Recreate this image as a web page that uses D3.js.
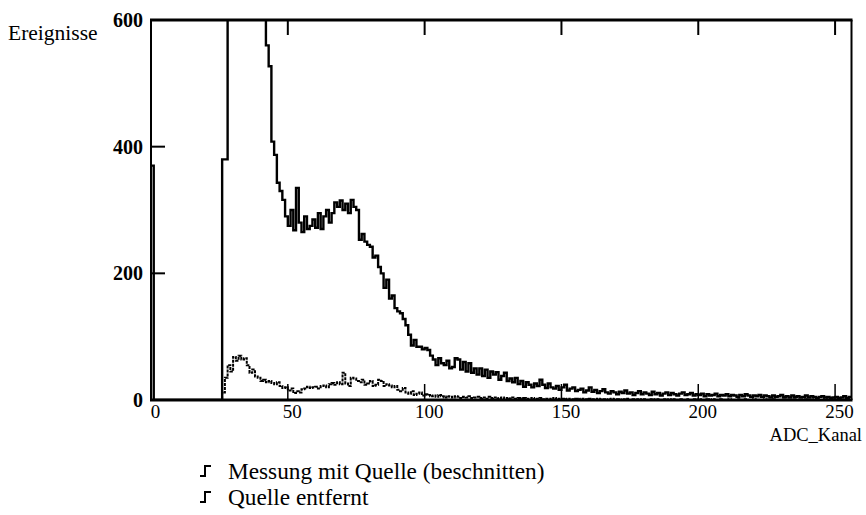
<!DOCTYPE html>
<html>
<head>
<meta charset="utf-8">
<script src="https://cdn.jsdelivr.net/npm/d3@7"></script>
<style>
  body { margin: 0; background: #fff; }
  svg text { font-family: "Liberation Serif", "Times New Roman", serif; fill: #000; }
</style>
</head>
<body>
<svg width="866" height="515"></svg>
<script>
// counts per ADC channel, 0..255 (rows of 10)
var messung = [
  370, 0, 0, 0, 0, 0, 0, 0, 0, 0,
  0, 0, 0, 0, 0, 0, 0, 0, 0, 0,
  0, 0, 0, 0, 0, 0, 380, 380, 1200, 2400,
  2900, 2700, 2300, 1900, 1600, 1300, 1100, 950, 820, 720,
  660, 620, 560, 527, 408, 387, 343, 330, 316, 290,
  275, 300, 268, 335, 280, 265, 290, 270, 275, 285,
  272, 295, 270, 290, 300, 280, 295, 312, 305, 315,
  300, 310, 295, 316, 305, 300, 253, 262, 250, 245,
  242, 225, 228, 210, 200, 177, 190, 160, 165, 145,
  140, 137, 128, 118, 103, 86, 95, 84, 84, 80,
  82, 79, 70, 64, 55, 66, 58, 55, 62, 50,
  52, 66, 64, 48, 60, 45, 58, 43, 50, 40,
  50, 38, 48, 35, 45, 40, 44, 32, 38, 43,
  30, 34, 28, 35, 25, 30, 21, 28, 24, 20,
  26, 22, 32, 24, 19, 26, 20, 18, 22, 16,
  20, 24, 15, 18, 20, 14, 16, 18, 12, 15,
  20, 13, 16, 11, 14, 17, 12, 10, 14, 12,
  9, 13, 11, 15, 10, 12, 8, 11, 14, 9,
  12, 10, 8, 13, 9, 11, 7, 10, 12, 8,
  11, 9, 7, 10, 12, 8, 9, 11, 7, 9,
  8, 10, 6, 9, 7, 8, 10, 6, 8, 7,
  9, 6, 8, 7, 5, 8, 6, 9, 7, 5,
  7, 6, 8, 5, 7, 6, 4, 7, 5, 6,
  8, 5, 6, 4, 7, 5, 6, 4, 5, 7,
  4, 6, 5, 3, 5, 6, 4, 5, 3, 4,
  5, 3, 4, 6, 3, 5
];

var entfernt = [
  0, 0, 0, 0, 0, 0, 0, 0, 0, 0,
  0, 0, 0, 0, 0, 0, 0, 0, 0, 0,
  0, 0, 0, 0, 0, 0, 12, 35, 55, 45,
  68, 62, 70, 64, 66, 55, 43, 48, 37, 35,
  30, 32, 28, 30, 27, 25, 28, 22, 19, 20,
  15, 18, 11, 14, 12, 17, 18, 21, 19, 20,
  21, 18, 22, 23, 20, 25, 27, 24, 28, 25,
  43, 26, 22, 35, 34, 30, 28, 32, 24, 26,
  30, 22, 24, 32, 30, 22, 25, 23, 20, 22,
  16, 14, 19, 12, 10, 14, 8, 10, 12, 7,
  9, 8, 6, 7, 5, 8, 6, 4, 6, 5,
  4, 6, 5, 3, 5, 4, 6, 3, 4, 5,
  3, 4, 2, 5, 3, 4, 2, 3, 4, 2,
  3, 2, 4, 2, 3, 1, 3, 2, 2, 3,
  1, 2, 3, 1, 2, 2, 1, 3, 1, 2,
  2, 1, 2, 1, 1, 2, 1, 2, 1, 1,
  2, 1, 1, 2, 1, 1, 0, 1, 2, 1,
  1, 0, 1, 1, 2, 0, 1, 1, 0, 1,
  1, 0, 1, 0, 1, 1, 0, 1, 0, 1,
  0, 1, 0, 1, 0, 0, 1, 0, 1, 0,
  1, 0, 0, 1, 0, 1, 0, 0, 1, 0,
  0, 1, 0, 0, 1, 0, 0, 1, 0, 0,
  1, 0, 0, 0, 1, 0, 0, 1, 0, 0,
  0, 1, 0, 0, 0, 1, 0, 0, 0, 1,
  0, 0, 1, 0, 0, 0, 1, 0, 0, 0,
  1, 0, 0, 0, 1, 0
];

var xTicks = [0, 50, 100, 150, 200, 250];
var yTicks = [0, 200, 400, 600];
var legendLabels = ["Messung mit Quelle (beschnitten)", "Quelle entfernt"];

var svg = d3.select("svg"),
    plotL = 151, plotR = 851.5, plotT = 20, plotB = 400;

var x = d3.scaleLinear().domain([0, 256]).range([plotL, plotR]);
var y = d3.scaleLinear().domain([0, 600]).range([plotB, plotT]);

svg.append("defs").append("clipPath").attr("id", "plot")
  .append("rect")
    .attr("x", plotL).attr("y", plotT)
    .attr("width", plotR - plotL).attr("height", plotB - plotT);

// step histogram: each channel spans [k, k+1]
function toPoints(arr) {
  var pts = arr.map(function(v, i) { return [i, v]; });
  pts.push([arr.length, arr[arr.length - 1]]);
  return pts;
}

var line = d3.line()
    .x(function(d) { return x(d[0]); })
    .y(function(d) { return y(d[1]); })
    .curve(d3.curveStepAfter);

var g = svg.append("g").attr("clip-path", "url(#plot)");

g.append("path")
    .datum(toPoints(entfernt))
    .attr("fill", "none")
    .attr("stroke", "#000")
    .attr("stroke-width", 2)
    .attr("stroke-dasharray", "3,1")
    .attr("d", line);

g.append("path")
    .datum(toPoints(messung))
    .attr("fill", "none")
    .attr("stroke", "#000")
    .attr("stroke-width", 2.4)
    .attr("d", line);

// frame
var frame = svg.append("g").attr("stroke", "#000").attr("fill", "none");
frame.append("line").attr("x1", plotL - 1).attr("x2", plotR + 1).attr("y1", plotT).attr("y2", plotT).attr("stroke-width", 3);
frame.append("line").attr("x1", plotL - 1).attr("x2", plotR + 1).attr("y1", plotB).attr("y2", plotB).attr("stroke-width", 3);
frame.append("line").attr("x1", plotL).attr("x2", plotL).attr("y1", plotT).attr("y2", plotB).attr("stroke-width", 2);
frame.append("line").attr("x1", plotR).attr("x2", plotR).attr("y1", plotT).attr("y2", plotB).attr("stroke-width", 2);

// inward ticks
var inner = xTicks.filter(function(d) { return d > 0; });
frame.selectAll(".tt").data(inner).enter().append("line")
    .attr("x1", x).attr("x2", x).attr("y1", plotT).attr("y2", plotT + 15).attr("stroke-width", 2);
frame.selectAll(".bt").data(inner).enter().append("line")
    .attr("x1", x).attr("x2", x).attr("y1", plotB).attr("y2", plotB - 16).attr("stroke-width", 1.5);
frame.selectAll(".lt").data([200, 400]).enter().append("line")
    .attr("x1", plotL).attr("x2", plotL + 14).attr("y1", y).attr("y2", y).attr("stroke-width", 2);

// axes labels via d3 axes (lines hidden)
var xAxis = svg.append("g")
    .attr("transform", "translate(4," + (plotB + 4) + ")")
    .call(d3.axisBottom(x).tickValues(xTicks).tickSize(0).tickPadding(0));
xAxis.select(".domain").remove();
xAxis.selectAll("text").attr("font-size", 19).attr("dy", "0.75em")
    .style("font-family", '"Liberation Serif", serif');

var yAxis = svg.append("g")
    .attr("transform", "translate(143,0)")
    .call(d3.axisLeft(y).tickValues(yTicks).tickSize(0).tickPadding(0));
yAxis.select(".domain").remove();
yAxis.selectAll("text").attr("font-size", 20).attr("font-weight", "bold")
    .style("font-family", '"Liberation Serif", serif');

svg.append("text").attr("x", 8).attr("y", 40).attr("font-size", 21.5).text("Ereignisse");
svg.append("text").attr("x", 862).attr("y", 441).attr("text-anchor", "end").attr("font-size", 18.5).text("ADC_Kanal");

// legend
var leg = svg.selectAll(".leg").data(legendLabels).enter().append("g")
    .attr("transform", function(d, i) { return "translate(200," + (471 + i * 26) + ")"; });
leg.append("path")
    .attr("d", "M0,5 H5 V-5 H11")
    .attr("fill", "none").attr("stroke", "#000").attr("stroke-width", 2);
leg.append("text").attr("x", 28).attr("y", 8).attr("font-size", 23.3).text(function(d) { return d; });
</script>
</body>
</html>
